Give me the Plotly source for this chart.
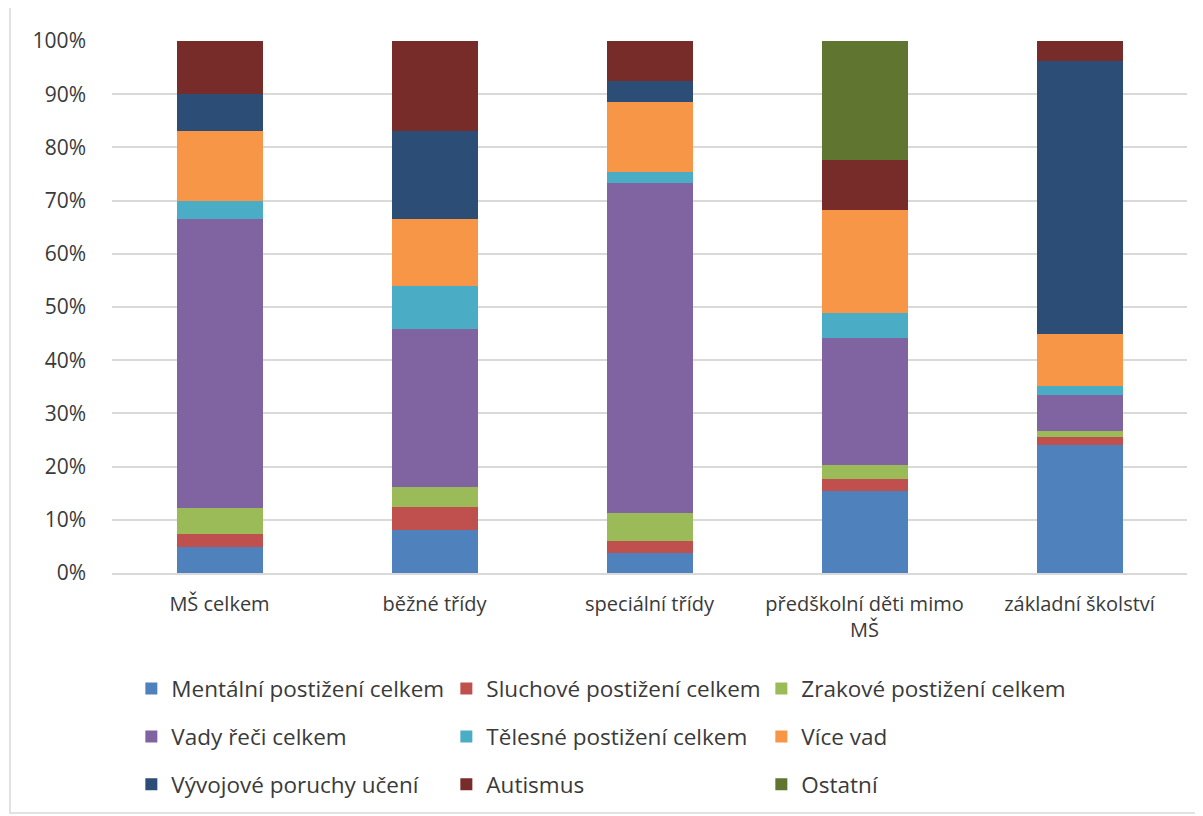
import plotly.graph_objects as go

categories = ["MŠ celkem", "běžné třídy", "speciální třídy",
              "předškolní děti mimo<br>MŠ", "základní školství"]

# shares in percent
mentalni = [4.9, 8.1, 3.8, 15.4, 24.1]
sluchove = [2.4, 4.3, 2.3, 2.3, 1.5]
zrakove = [4.9, 3.8, 5.1, 2.6, 1.1]
vady_reci = [54.3, 29.7, 62.2, 23.9, 6.8]
telesne = [3.4, 8.1, 1.9, 4.7, 1.7]
vice_vad = [13.2, 12.6, 13.3, 19.4, 9.8]
vyvojove = [7.0, 16.5, 3.8, 0.0, 51.3]
autismus = [10.0, 16.9, 7.7, 9.4, 3.8]
ostatni = [0.0, 0.0, 0.0, 22.4, 0.0]

series = [
    ("Mentální postižení celkem", mentalni, "#4F81BD", "legend"),
    ("Sluchové postižení celkem", sluchove, "#C0504D", "legend"),
    ("Zrakové postižení celkem", zrakove, "#9BBB59", "legend"),
    ("Vady řeči celkem", vady_reci, "#8064A2", "legend2"),
    ("Tělesné postižení celkem", telesne, "#4BACC6", "legend2"),
    ("Více vad", vice_vad, "#F79646", "legend2"),
    ("Vývojové poruchy učení", vyvojove, "#2C4D75", "legend3"),
    ("Autismus", autismus, "#772C2A", "legend3"),
    ("Ostatní", ostatni, "#5F7530", "legend3"),
]

FONT = "'Open Sans', sans-serif"
TXT = "#3a3a3a"

fig = go.Figure()
for name, vals, color, leg in series:
    fig.add_trace(go.Bar(
        name=name,
        x=categories,
        y=[v / 100 for v in vals],
        marker=dict(color=color, line=dict(width=0)),
        legend=leg,
        hoverinfo="skip",
    ))

def legend_row(y):
    return dict(
        orientation="h",
        x=0.018, xanchor="left",
        y=y, yanchor="middle",
        entrywidth=270, entrywidthmode="pixels",
        font=dict(family=FONT, size=22.5, color=TXT),
        traceorder="normal",
        bgcolor="rgba(0,0,0,0)",
    )

# the page puts the figure 8px in from the top-left, so size/margins compensate
fig.update_layout(
    barmode="stack",
    bargap=0.6,
    width=1195, height=808,
    margin=dict(l=104, r=16, t=33, b=243, autoexpand=False),
    paper_bgcolor="white",
    plot_bgcolor="white",
    font=dict(family=FONT, size=20, color=TXT),
    showlegend=True,
    legend=legend_row(-0.218),
    legend2=legend_row(-0.308),
    legend3=legend_row(-0.398),
    xaxis=dict(
        showline=True, linecolor="#D9D9D9", linewidth=1.5,
        ticks="", tickfont=dict(family=FONT, size=20, color=TXT),
        ticklabelstandoff=12,
        showgrid=False,
    ),
    yaxis=dict(
        range=[0, 1], tickformat=".0%", dtick=0.1,
        showgrid=True, gridcolor="#D9D9D9", gridwidth=1.5,
        zeroline=False, showline=False, ticks="",
        ticklabelstandoff=25,
        tickfont=dict(family=FONT, size=21, color=TXT),
    ),
)

# light frame around the chart area
fig.add_shape(type="rect", xref="paper", yref="paper",
              x0=-0.0949, x1=1.0107, y0=-0.451, y1=1.09,
              line=dict(color="#D9D9D9", width=1.5), fillcolor="rgba(0,0,0,0)",
              layer="below")

fig.write_html("out.html")
